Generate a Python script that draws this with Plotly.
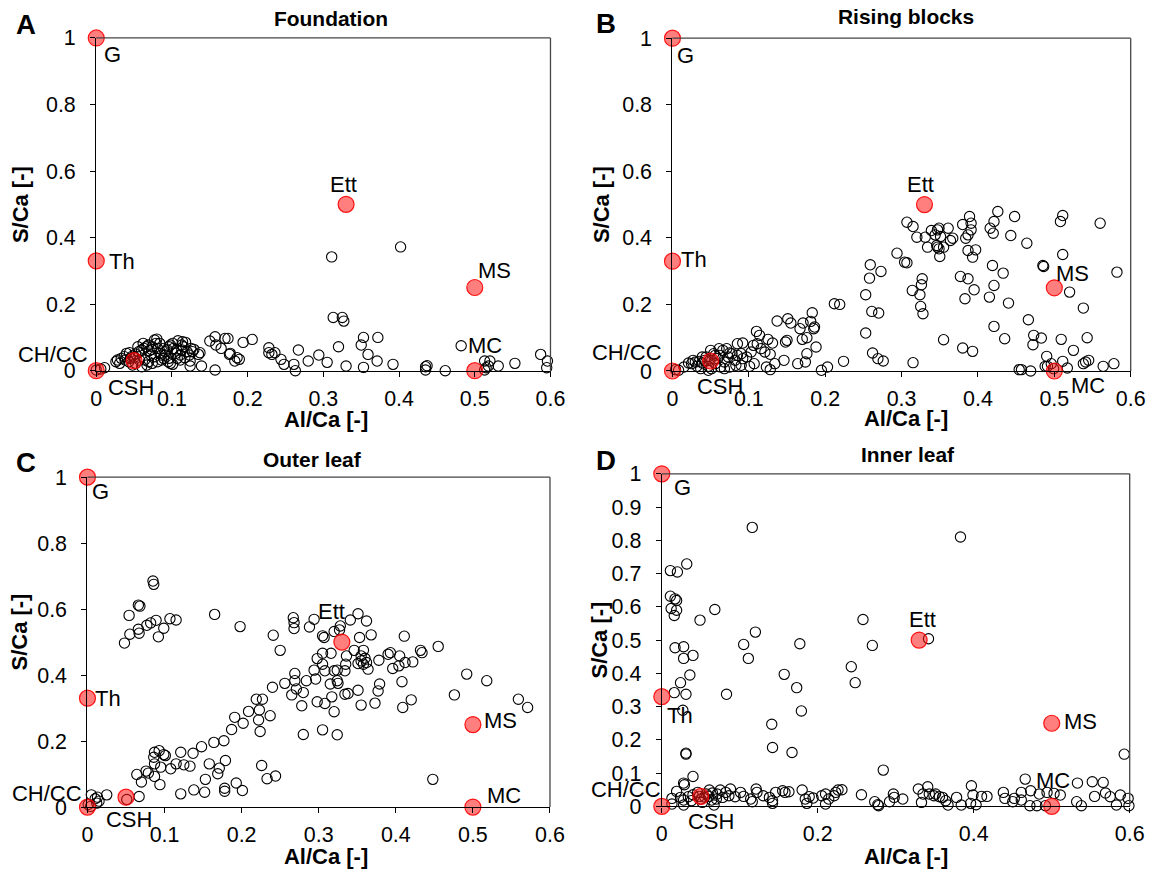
import plotly.graph_objects as go

# ---------------- data ----------------
ref_names = ["G", "Th", "Ett", "MS", "MC", "CH/CC", "CSH"]
ref_x = [0.0, 0.0, 0.33, 0.5, 0.5, 0.0, 0.05]
ref_y = [1.0, 0.33, 0.5, 0.25, 0.0, 0.0, 0.03]

panel_titles = ["Foundation", "Rising blocks", "Outer leaf", "Inner leaf"]
panel_letters = ["A", "B", "C", "D"]

foundation_pts = [
    (0.402, 0.372), (0.311, 0.342), (0.313, 0.160), (0.325, 0.160), (0.327, 0.149), (0.353, 0.100),
    (0.372, 0.100), (0.320, 0.072), (0.350, 0.077), (0.359, 0.049), (0.371, 0.029), (0.353, 0.010),
    (0.330, 0.014), (0.392, 0.019), (0.305, 0.025), (0.294, 0.047), (0.280, 0.029), (0.267, 0.062),
    (0.263, 0.000), (0.261, 0.019), (0.248, 0.019), (0.244, 0.034), (0.236, 0.054), (0.232, 0.049),
    (0.228, 0.069), (0.228, 0.054), (0.206, 0.094), (0.194, 0.085), (0.189, 0.034), (0.186, 0.039),
    (0.183, 0.029), (0.177, 0.052), (0.176, 0.049), (0.174, 0.097), (0.170, 0.097), (0.165, 0.067),
    (0.158, 0.077), (0.157, 0.102), (0.150, 0.089), (0.157, 0.002), (0.139, 0.014), (0.137, 0.054),
    (0.135, 0.049), (0.129, 0.064), (0.124, 0.029), (0.124, 0.014), (0.114, 0.087), (0.113, 0.077),
    (0.117, 0.039), (0.101, 0.019), (0.435, 0.012), (0.435, 0.002), (0.437, 0.015), (0.461, 0.000),
    (0.482, 0.075), (0.513, 0.029), (0.520, 0.029), (0.518, 0.014), (0.515, 0.009), (0.513, 0.002),
    (0.531, 0.014), (0.553, 0.022), (0.587, 0.049), (0.596, 0.029), (0.595, 0.009), (0.000, 0.002),
    (0.011, 0.009), (0.006, 0.005),
    (0.026, 0.027), (0.028, 0.032), (0.033, 0.037), (0.037, 0.042), (0.040, 0.052), (0.044, 0.054),
    (0.048, 0.044), (0.052, 0.050), (0.056, 0.057), (0.060, 0.062), (0.063, 0.067), (0.066, 0.072),
    (0.069, 0.077), (0.073, 0.064), (0.077, 0.092), (0.079, 0.082), (0.081, 0.067), (0.084, 0.052),
    (0.086, 0.047), (0.089, 0.037), (0.091, 0.057), (0.094, 0.062), (0.096, 0.072), (0.098, 0.077),
    (0.101, 0.082), (0.102, 0.067), (0.105, 0.052), (0.107, 0.037), (0.111, 0.047), (0.113, 0.062),
    (0.115, 0.072), (0.120, 0.057), (0.123, 0.047), (0.125, 0.067), (0.127, 0.057), (0.069, 0.027),
    (0.074, 0.022), (0.064, 0.032), (0.057, 0.032), (0.052, 0.022), (0.048, 0.017), (0.043, 0.027),
    (0.081, 0.027), (0.086, 0.032), (0.095, 0.027), (0.060, 0.012), (0.067, 0.017), (0.055, 0.072),
    (0.062, 0.082), (0.074, 0.072), (0.084, 0.082), (0.091, 0.047), (0.096, 0.037), (0.106, 0.062),
    (0.098, 0.022), (0.111, 0.032), (0.031, 0.022), (0.038, 0.032), (0.045, 0.037), (0.072, 0.047),
    (0.077, 0.042), (0.089, 0.067), (0.118, 0.085), (0.108, 0.090), (0.080, 0.095), (0.070, 0.060),
    (0.050, 0.040),
]

rising_pts = [
    (0.307, 0.447), (0.315, 0.434), (0.320, 0.402), (0.331, 0.402), (0.334, 0.372), (0.339, 0.422),
    (0.344, 0.409), (0.347, 0.424), (0.349, 0.429), (0.351, 0.404), (0.346, 0.377), (0.349, 0.367),
    (0.350, 0.344), (0.355, 0.372), (0.361, 0.429), (0.364, 0.392), (0.367, 0.399), (0.347, 0.372),
    (0.380, 0.440), (0.384, 0.399), (0.389, 0.464), (0.391, 0.444), (0.391, 0.424), (0.387, 0.362),
    (0.397, 0.364), (0.393, 0.342), (0.387, 0.409), (0.416, 0.429), (0.421, 0.449), (0.420, 0.414),
    (0.426, 0.479), (0.448, 0.464), (0.443, 0.407), (0.464, 0.384), (0.433, 0.294), (0.419, 0.317),
    (0.421, 0.257), (0.440, 0.204), (0.415, 0.222), (0.421, 0.134), (0.435, 0.097), (0.377, 0.284),
    (0.387, 0.277), (0.395, 0.244), (0.383, 0.217), (0.355, 0.094), (0.380, 0.069), (0.393, 0.059),
    (0.485, 0.317), (0.486, 0.314), (0.508, 0.449), (0.511, 0.467), (0.511, 0.350), (0.560, 0.444),
    (0.582, 0.297), (0.520, 0.237), (0.538, 0.189), (0.466, 0.154), (0.473, 0.107), (0.483, 0.099),
    (0.472, 0.079), (0.509, 0.095), (0.543, 0.100), (0.525, 0.062), (0.490, 0.044), (0.496, 0.022),
    (0.491, 0.014), (0.511, 0.029), (0.517, 0.009), (0.538, 0.022), (0.541, 0.027), (0.545, 0.032),
    (0.564, 0.014), (0.578, 0.022), (0.454, 0.004), (0.457, 0.004), (0.469, 0.000), (0.488, 0.014),
    (0.499, 0.007),
    (0.294, 0.354), (0.304, 0.327), (0.307, 0.325), (0.327, 0.277), (0.326, 0.259), (0.314, 0.242),
    (0.324, 0.229), (0.325, 0.194), (0.328, 0.172), (0.315, 0.025), (0.259, 0.319), (0.258, 0.279),
    (0.273, 0.299), (0.253, 0.229), (0.261, 0.179), (0.270, 0.174), (0.253, 0.114), (0.262, 0.054),
    (0.269, 0.037), (0.276, 0.030), (0.212, 0.202), (0.219, 0.200), (0.224, 0.029), (0.203, 0.012),
    (0.195, 0.002),
    (0.183, 0.175), (0.181, 0.149), (0.186, 0.132), (0.185, 0.127), (0.188, 0.072), (0.176, 0.052),
    (0.174, 0.027), (0.164, 0.022), (0.176, 0.100), (0.170, 0.095), (0.171, 0.144), (0.167, 0.127),
    (0.155, 0.144), (0.151, 0.157), (0.137, 0.150), (0.150, 0.092), (0.148, 0.087), (0.146, 0.032),
    (0.134, 0.022), (0.131, 0.084), (0.125, 0.095), (0.110, 0.119), (0.114, 0.107), (0.111, 0.082),
    (0.106, 0.077), (0.116, 0.067), (0.121, 0.057), (0.128, 0.050), (0.103, 0.057), (0.107, 0.022),
    (0.101, 0.014), (0.123, 0.012), (0.128, 0.004), (0.092, 0.084), (0.085, 0.082),
    (0.015, 0.012), (0.025, 0.022), (0.030, 0.027), (0.035, 0.029), (0.039, 0.024), (0.042, 0.032),
    (0.047, 0.014), (0.050, 0.062), (0.054, 0.052), (0.059, 0.037), (0.062, 0.047), (0.066, 0.062),
    (0.068, 0.027), (0.073, 0.042), (0.075, 0.054), (0.078, 0.052), (0.082, 0.032), (0.085, 0.047),
    (0.090, 0.052), (0.092, 0.037), (0.083, 0.017), (0.075, 0.012), (0.068, 0.007), (0.056, 0.022),
    (0.051, 0.007), (0.047, 0.002), (0.037, 0.007), (0.032, 0.014), (0.027, 0.032), (0.021, 0.024),
    (0.044, 0.042), (0.061, 0.067), (0.071, 0.067), (0.063, 0.012), (0.097, 0.042), (0.090, 0.017),
    (0.056, 0.047), (0.039, 0.042), (0.049, 0.032), (0.004, 0.004), (0.008, 0.002),
]

outer_pts = [
    (0.085, 0.685), (0.086, 0.675), (0.066, 0.612), (0.068, 0.609), (0.054, 0.581), (0.107, 0.571),
    (0.115, 0.567), (0.089, 0.566), (0.082, 0.558), (0.077, 0.551), (0.066, 0.539), (0.099, 0.542),
    (0.067, 0.527), (0.055, 0.524), (0.092, 0.516), (0.048, 0.497),
    (0.165, 0.584), (0.198, 0.547), (0.241, 0.521), (0.250, 0.475),
    (0.267, 0.574), (0.268, 0.559), (0.268, 0.541), (0.294, 0.569), (0.288, 0.546), (0.305, 0.519),
    (0.307, 0.514), (0.320, 0.532), (0.327, 0.537), (0.328, 0.549), (0.351, 0.586), (0.341, 0.567),
    (0.362, 0.564), (0.353, 0.514), (0.368, 0.522), (0.411, 0.518), (0.455, 0.487), (0.432, 0.475),
    (0.434, 0.468), (0.393, 0.468), (0.390, 0.463), (0.405, 0.458), (0.396, 0.420), (0.404, 0.428),
    (0.412, 0.438), (0.422, 0.440), (0.408, 0.380), (0.420, 0.325), (0.409, 0.302), (0.378, 0.445),
    (0.364, 0.418), (0.379, 0.373), (0.377, 0.352), (0.373, 0.315), (0.355, 0.309), (0.351, 0.354),
    (0.334, 0.342), (0.338, 0.344), (0.346, 0.475), (0.336, 0.458), (0.335, 0.433), (0.334, 0.413),
    (0.355, 0.458), (0.355, 0.443), (0.358, 0.433), (0.360, 0.451), (0.362, 0.438), (0.351, 0.435),
    (0.358, 0.475), (0.298, 0.450), (0.305, 0.466), (0.305, 0.433), (0.308, 0.413), (0.294, 0.415),
    (0.296, 0.388), (0.316, 0.466), (0.320, 0.413), (0.324, 0.415), (0.324, 0.383), (0.325, 0.375),
    (0.315, 0.373), (0.317, 0.334), (0.320, 0.289), (0.298, 0.319), (0.308, 0.314), (0.284, 0.383),
    (0.271, 0.358), (0.280, 0.347), (0.265, 0.340), (0.269, 0.405), (0.269, 0.383), (0.256, 0.375),
    (0.240, 0.363), (0.278, 0.307), (0.305, 0.234), (0.280, 0.220), (0.324, 0.219),
    (0.219, 0.327), (0.227, 0.327), (0.223, 0.294), (0.237, 0.277), (0.209, 0.290), (0.222, 0.264),
    (0.202, 0.254), (0.191, 0.272), (0.187, 0.235), (0.224, 0.229), (0.177, 0.201), (0.164, 0.196),
    (0.148, 0.183), (0.137, 0.163), (0.121, 0.166), (0.087, 0.166), (0.093, 0.171), (0.086, 0.151),
    (0.099, 0.159), (0.101, 0.156), (0.087, 0.131), (0.095, 0.121), (0.076, 0.109), (0.079, 0.103),
    (0.064, 0.099), (0.070, 0.076), (0.087, 0.093), (0.094, 0.068), (0.108, 0.116), (0.115, 0.131),
    (0.125, 0.128), (0.133, 0.124), (0.158, 0.131), (0.179, 0.141), (0.171, 0.118), (0.169, 0.101),
    (0.153, 0.084), (0.193, 0.073), (0.178, 0.057), (0.178, 0.048), (0.201, 0.050), (0.152, 0.045),
    (0.138, 0.052), (0.121, 0.040), (0.226, 0.126), (0.233, 0.086), (0.244, 0.094), (0.448, 0.084),
    (0.492, 0.403), (0.518, 0.383), (0.476, 0.340), (0.559, 0.327), (0.571, 0.302),
    (0.005, 0.037), (0.013, 0.030), (0.010, 0.025), (0.015, 0.018), (0.012, 0.012), (0.025, 0.037),
    (0.001, 0.008), (0.004, 0.002), (0.067, 0.032), (0.051, 0.023),
]

inner_pts = [
    (0.116, 0.839), (0.383, 0.810), (0.032, 0.729), (0.011, 0.709), (0.020, 0.705), (0.011, 0.632),
    (0.017, 0.624), (0.019, 0.619), (0.012, 0.595), (0.019, 0.590), (0.016, 0.574), (0.049, 0.560),
    (0.068, 0.592), (0.017, 0.477), (0.028, 0.480), (0.028, 0.445), (0.040, 0.454), (0.036, 0.395),
    (0.024, 0.372), (0.016, 0.342), (0.031, 0.337), (0.027, 0.289), (0.031, 0.160), (0.031, 0.157),
    (0.083, 0.337), (0.105, 0.487), (0.111, 0.445), (0.120, 0.524), (0.157, 0.397), (0.173, 0.357),
    (0.177, 0.489), (0.179, 0.287), (0.141, 0.247), (0.142, 0.177), (0.167, 0.162), (0.243, 0.420),
    (0.248, 0.372), (0.258, 0.562), (0.270, 0.484), (0.284, 0.109), (0.342, 0.504), (0.593, 0.157),
    (0.040, 0.090),
    (0.028, 0.070), (0.029, 0.065), (0.013, 0.024), (0.013, 0.007), (0.019, 0.045), (0.024, 0.027),
    (0.028, 0.019), (0.028, 0.004), (0.034, 0.029), (0.038, 0.017), (0.046, 0.042), (0.050, 0.022),
    (0.057, 0.037), (0.061, 0.049), (0.064, 0.019), (0.067, 0.004), (0.071, 0.037), (0.075, 0.049),
    (0.078, 0.027), (0.082, 0.042), (0.086, 0.032), (0.088, 0.052), (0.094, 0.029), (0.101, 0.042),
    (0.105, 0.030), (0.114, 0.022), (0.116, 0.014), (0.121, 0.052), (0.122, 0.042), (0.130, 0.032),
    (0.138, 0.027), (0.142, 0.017), (0.142, 0.009), (0.146, 0.042), (0.155, 0.047), (0.158, 0.042),
    (0.163, 0.044), (0.180, 0.049), (0.184, 0.022), (0.186, 0.009), (0.189, 0.029), (0.194, 0.025),
    (0.205, 0.032), (0.210, 0.037), (0.210, 0.007), (0.214, 0.022), (0.221, 0.032), (0.223, 0.042),
    (0.226, 0.049), (0.231, 0.050), (0.256, 0.035), (0.273, 0.014), (0.278, 0.002), (0.277, 0.005),
    (0.292, 0.014), (0.297, 0.037), (0.298, 0.027), (0.309, 0.022), (0.329, 0.052), (0.335, 0.037),
    (0.333, 0.012), (0.341, 0.059), (0.343, 0.037), (0.349, 0.032), (0.351, 0.037), (0.356, 0.029),
    (0.360, 0.027), (0.364, 0.017), (0.367, 0.004), (0.378, 0.027), (0.384, 0.004), (0.396, 0.009),
    (0.397, 0.062), (0.399, 0.034), (0.403, 0.005), (0.410, 0.030), (0.417, 0.030), (0.438, 0.042),
    (0.440, 0.024), (0.450, 0.014), (0.452, 0.024), (0.461, 0.019), (0.461, 0.042), (0.466, 0.082),
    (0.473, 0.047), (0.472, 0.002), (0.481, 0.002), (0.484, 0.037), (0.494, 0.042), (0.503, 0.039),
    (0.511, 0.034), (0.533, 0.070), (0.532, 0.014), (0.538, 0.002), (0.552, 0.074), (0.555, 0.030),
    (0.566, 0.072), (0.569, 0.040), (0.575, 0.029), (0.583, 0.004), (0.588, 0.034), (0.598, 0.024),
    (0.599, 0.002), (0.492, 0.002), (0.040, 0.035), (0.048, 0.030), (0.055, 0.028), (0.060, 0.030),
    (0.065, 0.040), (0.070, 0.022), (0.052, 0.012),
]

panel_points = [foundation_pts, rising_pts, outer_pts, inner_pts]

# ---------------- layout geometry ----------------
W, H = 1150, 870
# calibration of the photographed picture against page pixels
SX, OX, SY, OY = 0.9834, 5.1, 0.9738, 10.5
SF = (SX + SY) / 2


def px(tx):
    return min(1.0, max(0.0, ((tx - OX) / SX) / W))


def py(ty):
    return min(1.0, max(0.0, 1 - ((ty - OY) / SY) / H))


plot_boxes = [  # left, right, top, bottom in target picture px
    (95.5, 550.5, 37.5, 370.7),
    (672.7, 1131.7, 37.7, 371.0),
    (86.7, 550.0, 477.3, 807.7),
    (662.0, 1130.7, 474.0, 807.0),
]
x_dticks = [0.1, 0.1, 0.1, 0.2]
y_dticks = [0.2, 0.2, 0.2, 0.1]

title_pos = [(331, 18), (907, 16), (312, 460), (909, 455)]
letter_pos = [(25, 24), (606, 23), (25, 463), (606, 461)]
xtitle_pos = [(326, 420), (907, 419), (326, 857), (907, 857)]
ytitle_pos = [(19, 204), (601, 204), (19, 632), (600, 640)]

# label offsets (dx, dy in px, dy positive = down); CH/CC uses right anchor
label_offsets = [
    {"G": (16, 16), "Th": (25, 1), "Ett": (-3, -19), "MS": (19, -17), "MC": (10, -25), "CH/CC": (-6, -16), "CSH": (-3, 26)},
    {"G": (13, 17), "Th": (21, -2), "Ett": (-4, -20), "MS": (18, -14), "MC": (33, 14), "CH/CC": (-8, -18), "CSH": (9, 25)},
    {"G": (13, 14), "Th": (20, 0), "Ett": (-10, -30), "MS": (27, -4), "MC": (31, -11), "CH/CC": (-3, -13), "CSH": (3, 22)},
    {"G": (20, 13), "Th": (18, 18), "Ett": (3, -20), "MS": (28, -2), "MC": (1, -25), "CH/CC": (1, -16), "CSH": (10, 24)},
]

FONT = "Arial, Liberation Sans, sans-serif"
TICK_FS = 21.0 / SF
LABEL_FS = 21.5 / SF
TITLE_FS = 20.5 / SF
AXT_FS = 21.5 / SF
LETTER_FS = 27 / SF

fig = go.Figure()
annotations = []
shapes = []

for i in range(4):
    sfx = "" if i == 0 else str(i + 1)
    xa, ya = "x" + sfx, "y" + sfx
    pts = panel_points[i]
    fig.add_trace(go.Scatter(
        x=[p[0] for p in pts], y=[p[1] for p in pts], mode="markers",
        xaxis=xa, yaxis=ya, cliponaxis=False, showlegend=False, hoverinfo="skip",
        marker=dict(symbol="circle-open", size=10.3, color="black", line=dict(width=1.1, color="black")),
    ))
    fig.add_trace(go.Scatter(
        x=ref_x, y=ref_y, mode="markers",
        xaxis=xa, yaxis=ya, cliponaxis=False, showlegend=False, hoverinfo="skip",
        marker=dict(symbol="circle", size=16, color="rgba(255,20,20,0.55)",
                    line=dict(width=1.2, color="rgba(255,0,0,0.9)")),
    ))
    l, r, t, b = plot_boxes[i]
    common = dict(showgrid=False, zeroline=False, showline=True, linecolor="black", linewidth=1.3,
                  ticks="outside", ticklen=5, tickwidth=1.2, tickcolor="black",
                  tickfont=dict(family=FONT, size=TICK_FS, color="black"), fixedrange=True)
    fig.update_layout(**{
        "xaxis" + sfx: dict(domain=[px(l), px(r)], range=[0, 0.6], tick0=0, dtick=x_dticks[i],
                            anchor=ya, ticklabelstandoff=3, **common),
        "yaxis" + sfx: dict(domain=[py(b), py(t)], range=[0, 1], tick0=0, dtick=y_dticks[i],
                            anchor=xa, ticklabelstandoff=10, **common),
    })
    # top and right frame lines (dark grey)
    shapes.append(dict(type="line", xref=xa + " domain", yref=ya + " domain", x0=0, x1=1, y0=1, y1=1,
                       line=dict(color="#454545", width=1.3)))
    shapes.append(dict(type="line", xref=xa + " domain", yref=ya + " domain", x0=1, x1=1, y0=0, y1=1,
                       line=dict(color="#454545", width=1.3)))

    # reference labels
    for name, rx, ry in zip(ref_names, ref_x, ref_y):
        dx, dy = label_offsets[i][name]
        anchor = "right" if name == "CH/CC" else "center"
        annotations.append(dict(x=rx, y=ry, xref=xa, yref=ya, text=name, showarrow=False,
                                xanchor=anchor, yanchor="middle", xshift=dx / SX, yshift=-dy / SY,
                                font=dict(family=FONT, size=LABEL_FS, color="black")))
    tx, ty = title_pos[i]
    annotations.append(dict(x=px(tx), y=py(ty), xref="paper", yref="paper", text="<b>%s</b>" % panel_titles[i],
                            showarrow=False, xanchor="center", yanchor="middle",
                            font=dict(family=FONT, size=TITLE_FS, color="black")))
    lx, ly = letter_pos[i]
    annotations.append(dict(x=px(lx), y=py(ly), xref="paper", yref="paper", text="<b>%s</b>" % panel_letters[i],
                            showarrow=False, xanchor="center", yanchor="middle",
                            font=dict(family=FONT, size=LETTER_FS, color="black")))
    ax_, ay_ = xtitle_pos[i]
    annotations.append(dict(x=px(ax_), y=py(ay_), xref="paper", yref="paper", text="<b>Al/Ca [-]</b>",
                            showarrow=False, xanchor="center", yanchor="middle",
                            font=dict(family=FONT, size=AXT_FS, color="black")))
    bx_, by_ = ytitle_pos[i]
    annotations.append(dict(x=px(bx_), y=py(by_), xref="paper", yref="paper", text="<b>S/Ca [-]</b>",
                            showarrow=False, xanchor="center", yanchor="middle", textangle=-90,
                            font=dict(family=FONT, size=AXT_FS, color="black")))

fig.update_layout(
    width=W, height=H, margin=dict(l=0, r=0, t=0, b=0),
    paper_bgcolor="white", plot_bgcolor="white",
    annotations=annotations, shapes=shapes, showlegend=False,
)

fig.write_html("out.html", include_plotlyjs=True, config={"displayModeBar": False},
               post_script="document.body.style.margin='0';document.body.style.overflow='hidden';")
